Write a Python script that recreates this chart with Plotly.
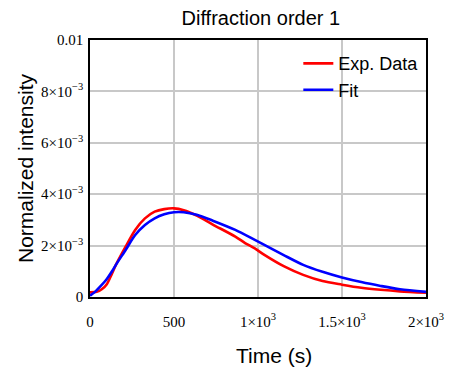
import plotly.graph_objects as go

# Experimental data (time in s, normalized intensity)
exp_t = [0, 40, 70, 100, 130, 154, 212, 269, 327, 385, 442, 500, 558, 635, 731,
         865, 923, 981, 1038, 1153, 1269, 1384, 1500, 1615, 1730, 1845, 2000]
exp_y = [0.18e-3, 0.2e-3, 0.3e-3, 0.5e-3, 0.9e-3, 1.25e-3, 1.96e-3, 2.61e-3, 3.06e-3,
         3.32e-3, 3.42e-3, 3.45e-3, 3.38e-3, 3.17e-3, 2.82e-3, 2.35e-3, 2.1e-3,
         1.89e-3, 1.64e-3, 1.2e-3, 0.86e-3, 0.62e-3, 0.48e-3, 0.36e-3, 0.28e-3,
         0.22e-3, 0.17e-3]

# Fit
fit_t = [0, 30, 60, 100, 134, 154, 212, 269, 327, 385, 442, 500, 558, 635, 731,
         865, 981, 1077, 1153, 1269, 1384, 1500, 1615, 1730, 1845, 2000]
fit_y = [0.05e-3, 0.2e-3, 0.4e-3, 0.7e-3, 1.03e-3, 1.25e-3, 1.83e-3, 2.41e-3, 2.8e-3,
         3.06e-3, 3.22e-3, 3.3e-3, 3.3e-3, 3.2e-3, 2.97e-3, 2.61e-3, 2.22e-3, 1.89e-3,
         1.63e-3, 1.25e-3, 0.98e-3, 0.76e-3, 0.58e-3, 0.43e-3, 0.3e-3, 0.2e-3]

x_tickvals = [0, 500, 1000, 1500, 2000]
x_ticktext = ["0", "500", "1×10<sup>3</sup>", "1.5×10<sup>3</sup>", "2×10<sup>3</sup>"]
y_tickvals = [0, 0.002, 0.004, 0.006, 0.008, 0.01]
y_ticktext = ["0", "2×10<sup>−3</sup>", "4×10<sup>−3</sup>", "6×10<sup>−3</sup>",
              "8×10<sup>−3</sup>", "0.01"]

SANS = "Liberation Sans, Arial, sans-serif"
SERIF = "Liberation Serif, Times New Roman, serif"

fig = go.Figure()
fig.add_trace(go.Scatter(x=exp_t, y=exp_y, mode="lines", name="Exp. Data",
                         line=dict(color="#ff0000", width=2.6, shape="spline", smoothing=0.8)))
fig.add_trace(go.Scatter(x=fit_t, y=fit_y, mode="lines", name="Fit",
                         line=dict(color="#0000ff", width=2.6, shape="spline", smoothing=0.8)))

fig.update_layout(
    width=456, height=367,
    margin=dict(l=90, r=19, t=40, b=70),
    paper_bgcolor="white", plot_bgcolor="white",
    title=dict(text="Diffraction order 1", x=0.572, xanchor="center", y=0.952, yanchor="middle",
               font=dict(family=SANS, size=20, color="black")),
    showlegend=True,
    legend=dict(x=0.62, y=0.98, xanchor="left", yanchor="top",
                bgcolor="rgba(0,0,0,0)", font=dict(family=SANS, size=18, color="black"),
                itemwidth=30, tracegroupgap=0),
    xaxis=dict(range=[0, 2000], tickvals=x_tickvals, ticktext=x_ticktext,
               showgrid=True, gridcolor="#c8c8c8", gridwidth=1.5,
               showline=True, linecolor="black", linewidth=1.5, mirror=True,
               zeroline=False, ticks="", ticklabelstandoff=10,
               tickfont=dict(family=SERIF, size=15, color="black")),
    yaxis=dict(range=[0, 0.01], tickvals=y_tickvals, ticktext=y_ticktext,
               showgrid=True, gridcolor="#c8c8c8", gridwidth=1.5,
               showline=True, linecolor="black", linewidth=1.5, mirror=True,
               zeroline=False, ticks="", ticklabelstandoff=2,
               tickfont=dict(family=SERIF, size=15, color="black"),
               title=dict(text="Normalized intensity", font=dict(family=SANS, size=21, color="black"),
                          standoff=2)),
    annotations=[dict(text="Time (s)", xref="paper", yref="paper", x=0.548, y=-0.226,
                      xanchor="center", yanchor="middle", showarrow=False,
                      font=dict(family=SANS, size=21, color="black"))],
)

fig.write_html("out.html")
